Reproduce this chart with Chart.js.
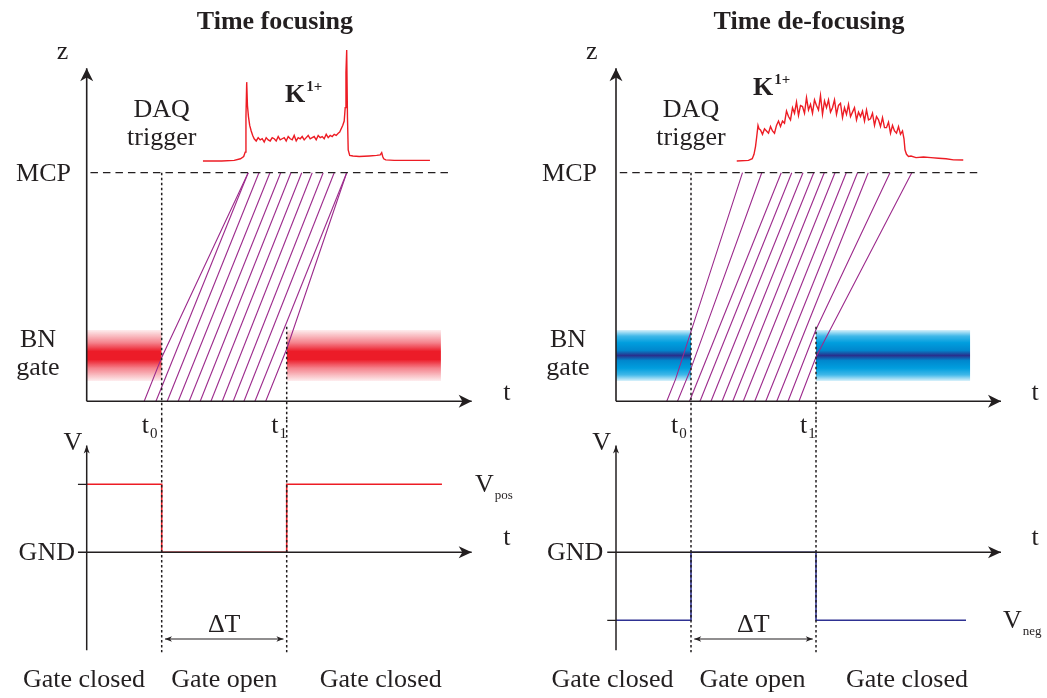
<!DOCTYPE html>
<html lang="en">
<head>
<meta charset="utf-8">
<title>BN gate timing</title>
<script src="https://cdn.jsdelivr.net/npm/chart.js@4.4.0/dist/chart.umd.min.js"></script>
<style>
  body { margin: 0; background: #fff; }
  canvas { display: block; }
</style>
</head>
<body>
<canvas id="gateChart" width="1047" height="698"></canvas>
<script>
// gate opens at t0, closes at t1 (arbitrary time units), MCP sits at z = 10
const t0 = 3;
const t1 = 8;
const mcpZ = 10;
const gateZ = [0.89, 3.12];
const vPos = 1;
const vNeg = -1;

// ion paths: time at z = 0 and arrival time at the MCP
const focusStart  = [2.30, 2.77, 3.22, 3.66, 4.10, 4.54, 4.97, 5.42, 5.86, 6.29, 6.73, 7.16];
const focusArrive = [6.46, 6.46, 6.89, 7.33, 7.76, 8.17, 8.60, 9.02, 9.46, 9.90, 10.40, 10.40];
// ions caught inside the gate when it switches: [path, t, z]
const focusBends = [[0, 3.0, 1.92], [11, 8.0, 2.29]];

const defocusStart  = [2.03, 2.46, 2.94, 3.36, 3.80, 4.24, 4.67, 5.09, 5.55, 5.99, 6.43, 6.88, 7.32];
const defocusArrive = [5.06, 5.83, 6.61, 7.03, 7.48, 7.91, 8.33, 8.76, 9.21, 9.66, 10.09, 10.96, 11.83];
const defocusBends = [[0, 2.38, 0.96], [1, 3.0, 1.44], [11, 8.0, 3.14], [12, 8.0, 1.94]];

// K1+ spectra seen on the MCP (counts, arb.)
const focusSpecT = [4.65, 5.40, 5.90, 6.15, 6.28, 6.34, 6.37, 6.40, 6.43, 6.47, 6.52, 6.58, 6.64,
  6.70, 6.78, 6.86, 6.94, 7.02, 7.10, 7.18, 7.26, 7.34, 7.42, 7.50, 7.58, 7.66, 7.74, 7.82, 7.90,
  7.98, 8.06, 8.14, 8.22, 8.30, 8.38, 8.46, 8.54, 8.62, 8.70, 8.78, 8.86, 8.94, 9.02, 9.10, 9.18,
  9.26, 9.34, 9.42, 9.50, 9.58, 9.66, 9.74, 9.82, 9.90, 9.98, 10.06,
  10.12, 10.18, 10.24, 10.30, 10.34, 10.37, 10.40, 10.43, 10.46, 10.52, 10.65, 10.90, 11.30,
  11.60, 11.74, 11.80, 11.84, 11.88, 11.96, 12.30, 13.00, 13.73];
const focusSpecN = [0, 0, 0.5, 2, 4, 8, 40, 71, 50, 40, 32, 27, 23,
  20, 18, 21, 19, 20, 17, 21, 19, 18, 21, 20, 18, 22, 19, 20, 21,
  18, 22, 20, 19, 23, 18, 21, 20, 22, 19, 21, 23, 20, 21, 22, 19,
  23, 21, 22, 20, 24, 21, 23, 22, 24, 23, 25,
  26, 29, 32, 36, 48, 80, 100, 40, 10, 5, 4.5, 4, 4.5,
  5, 5.5, 7.5, 4, 2, 1, 0.5, 0.5, 0.5];

const defocusSpecT = [4.83, 5.30, 5.45, 5.52, 5.58, 5.63, 5.68, 5.72,
  5.78, 5.86, 5.94, 6.02, 6.10, 6.18, 6.26, 6.34, 6.42, 6.50, 6.58, 6.66, 6.74, 6.82, 6.90, 6.98,
  7.06, 7.14, 7.22, 7.30, 7.38, 7.46, 7.54, 7.62, 7.70, 7.78, 7.86, 7.94, 8.02, 8.10, 8.18, 8.26,
  8.34, 8.42, 8.50, 8.58, 8.66, 8.74, 8.82, 8.90, 8.98, 9.06, 9.14, 9.22, 9.30, 9.38, 9.46, 9.54,
  9.62, 9.70, 9.78, 9.86, 9.94, 10.02, 10.10, 10.18, 10.26, 10.34, 10.42, 10.50, 10.58, 10.66,
  10.74, 10.82, 10.90, 10.98, 11.06, 11.14, 11.22, 11.30, 11.38, 11.46,
  11.52, 11.56, 11.62, 11.70, 11.80, 12.00, 12.30, 12.60, 12.90, 13.20, 13.50, 13.89];
const defocusSpecN = [0, 0.5, 2, 6, 13, 22, 32, 29,
  28, 24, 29, 27, 25, 31, 27, 25, 32, 36, 31, 36, 34, 45, 40, 37,
  48, 43, 53, 41, 50, 49, 43, 57, 46, 51, 43, 55, 50, 46, 59, 42,
  54, 48, 55, 44, 48, 55, 42, 50, 52, 39, 48, 42, 51, 40, 44, 48,
  37, 44, 40, 45, 36, 46, 37, 38, 43, 32, 40, 37, 31, 39,
  30, 30, 35, 25, 32, 27, 25, 31, 24, 27,
  20, 10, 6, 4, 4.5, 3, 3.5, 3, 2.5, 2, 1, 0.8];

// sketch extents
const tEnd = 15.4, zTop = 14.57, vTop = 1.57, vBottom = -1.44, tickFrom = -0.35;
const markBottom = -1.47, t1MarkTop = 3.26, dtLevel = -1.275, bandEnd = 14.17;
const zMin = -0.818, zMax = 17.555, vMin = -2.143, vMax = 1.946;

const INK = '#231f20';
const ION = '#9c2a8c';
const SERIF = '"Liberation Serif", "Times New Roman", serif';

function seg(pts, xa, ya, color, width, extra) {
  return Object.assign({
    data: pts, xAxisID: xa, yAxisID: ya,
    borderColor: color, borderWidth: width,
    pointRadius: 0, fill: false, order: 5
  }, extra || {});
}

function bandFill(stops) {
  return (c) => {
    const chart = c.chart;
    if (!chart.chartArea) return 'rgba(0,0,0,0)';
    const y = chart.scales.yz;
    const g = chart.ctx.createLinearGradient(0, y.getPixelForValue(gateZ[1]), 0, y.getPixelForValue(gateZ[0]));
    stops.forEach(s => g.addColorStop(s[0], s[1]));
    return g;
  };
}

const redBand = [[0, 'rgba(236,28,46,0.08)'], [0.25, 'rgba(236,28,46,0.55)'], [0.42, 'rgb(236,28,40)'],
  [0.58, 'rgb(236,28,40)'], [0.75, 'rgba(236,28,46,0.55)'], [1, 'rgba(236,28,46,0.08)']];
const blueBand = [[0, 'rgba(0,160,225,0.15)'], [0.12, 'rgba(0,160,225,0.75)'], [0.25, 'rgb(0,158,222)'],
  [0.4, 'rgb(0,135,205)'], [0.5, 'rgb(40,48,140)'], [0.6, 'rgb(0,135,205)'], [0.75, 'rgb(0,158,222)'],
  [0.88, 'rgba(0,160,225,0.75)'], [1, 'rgba(0,160,225,0.15)']];

function panel(xa, o) {
  const sets = [];
  // axes
  sets.push(seg([{x: 0, y: 0}, {x: 0, y: zTop}], xa, 'yz', INK, 1.6, {order: 1}));
  sets.push(seg([{x: 0, y: 0}, {x: tEnd, y: 0}], xa, 'yz', INK, 1.6, {order: 1}));
  sets.push(seg([{x: 0, y: vBottom}, {x: 0, y: vTop}], xa, 'yv', INK, 1.5, {order: 1}));
  sets.push(seg([{x: tickFrom, y: 0}, {x: tEnd, y: 0}], xa, 'yv', INK, 1.6, {order: 1}));
  sets.push(seg([{x: tickFrom, y: o.level}, {x: 0, y: o.level}], xa, 'yv', INK, 1.2, {order: 1}));
  // MCP plane
  sets.push(seg([{x: 0.15, y: mcpZ}, {x: 14.6, y: mcpZ}], xa, 'yz', INK, 1.3, {borderDash: [7.5, 5], order: 2}));
  // t0 / t1 markers
  const dots = {borderDash: [2.5, 2.5], order: 3};
  sets.push(seg([{x: t0, y: mcpZ}, {x: t0, y: zMin}], xa, 'yz', INK, 1.5, dots));
  sets.push(seg([{x: t0, y: vMax}, {x: t0, y: markBottom}], xa, 'yv', INK, 1.5, dots));
  sets.push(seg([{x: t1, y: t1MarkTop}, {x: t1, y: zMin}], xa, 'yz', INK, 1.5, dots));
  sets.push(seg([{x: t1, y: vMax}, {x: t1, y: markBottom}], xa, 'yv', INK, 1.5, dots));
  sets.push(seg([{x: t0 + 0.13, y: dtLevel}, {x: t1 - 0.13, y: dtLevel}], xa, 'yv', INK, 1.2, {order: 3}));
  // gate voltage
  sets.push(seg([{x: 0, y: o.level}, {x: t0, y: o.level}, {x: t0, y: 0}, {x: t1, y: 0},
    {x: t1, y: o.level}, {x: o.sigEnd, y: o.level}], xa, 'yv', o.sigColor, 1.6, {order: 4}));
  // ion trajectories
  o.start.forEach((ts, i) => {
    const pts = [{x: ts, y: 0}];
    o.bends.filter(b => b[0] === i).forEach(b => pts.push({x: b[1], y: b[2]}));
    pts.push({x: o.arrive[i], y: mcpZ});
    sets.push(seg(pts, xa, 'yz', ION, 1.1, {order: 6}));
  });
  // spectrum
  sets.push(seg(o.specT.map((t, i) => ({x: t, y: o.specN[i]})), xa, 'ySpec', '#ed1c24', 1.4, {order: 7}));
  // BN gate bands
  [[0, t0], [t1, bandEnd]].forEach(r => {
    sets.push(seg([{x: r[0], y: gateZ[1]}, {x: r[1], y: gateZ[1]}], xa, 'yz', 'rgba(0,0,0,0)', 0,
      {fill: {value: gateZ[0]}, backgroundColor: bandFill(o.band), order: 9}));
  });
  return sets;
}

const datasets = [
  ...panel('xL', {level: vPos, sigEnd: 14.21, sigColor: '#ed1c24', band: redBand,
    start: focusStart, arrive: focusArrive, bends: focusBends, specT: focusSpecT, specN: focusSpecN}),
  ...panel('xR', {level: vNeg, sigEnd: 14.0, sigColor: '#2e3192', band: blueBand,
    start: defocusStart, arrive: defocusArrive, bends: defocusBends, specT: defocusSpecT, specN: defocusSpecN})
];

const labels = [
  {text: 'Time focusing', x: 7.53, y: 16.29, xa: 'xL', ya: 'yz', bold: true},
  {text: 'z', x: -0.97, y: 14.96, xa: 'xL', ya: 'yz'},
  {text: 'DAQ', x: 3, y: 12.44, xa: 'xL', ya: 'yz'},
  {text: 'trigger', x: 3, y: 11.21, xa: 'xL', ya: 'yz'},
  {text: 'K', sup: '1+', x: 7.93, y: 13.11, xa: 'xL', ya: 'yz', bold: true, align: 'left'},
  {text: 'MCP', x: -0.63, y: 9.63, xa: 'xL', ya: 'yz', align: 'right'},
  {text: 'BN', x: -1.95, y: 2.39, xa: 'xL', ya: 'yz'},
  {text: 'gate', x: -1.95, y: 1.15, xa: 'xL', ya: 'yz'},
  {text: 't', x: 16.81, y: 0.06, xa: 'xL', ya: 'yz'},
  {text: 't', sub: '0', x: 2.2, y: 1.754, xa: 'xL', ya: 'yv', align: 'left'},
  {text: 't', sub: '1', x: 7.38, y: 1.754, xa: 'xL', ya: 'yv', align: 'left'},
  {text: 'V', x: -0.55, y: 1.5, xa: 'xL', ya: 'yv'},
  {text: 'GND', x: -0.47, y: -0.11, xa: 'xL', ya: 'yv', align: 'right'},
  {text: 't', x: 16.81, y: 0.11, xa: 'xL', ya: 'yv'},
  {text: 'V', sub: 'pos', x: 15.53, y: 0.89, xa: 'xL', ya: 'yv', align: 'left'},
  {text: '\u0394T', x: 5.5, y: -1.17, xa: 'xL', ya: 'yv'},
  {text: 'Gate closed', x: -0.11, y: -1.98, xa: 'xL', ya: 'yv'},
  {text: 'Gate open', x: 5.5, y: -1.98, xa: 'xL', ya: 'yv'},
  {text: 'Gate closed', x: 11.76, y: -1.98, xa: 'xL', ya: 'yv'},

  {text: 'Time de-focusing', x: 7.72, y: 16.29, xa: 'xR', ya: 'yz', bold: true},
  {text: 'z', x: -0.97, y: 14.96, xa: 'xR', ya: 'yz'},
  {text: 'DAQ', x: 3, y: 12.44, xa: 'xR', ya: 'yz'},
  {text: 'trigger', x: 3, y: 11.21, xa: 'xR', ya: 'yz'},
  {text: 'K', sup: '1+', x: 5.48, y: 13.4, xa: 'xR', ya: 'yz', bold: true, align: 'left'},
  {text: 'MCP', x: -0.76, y: 9.63, xa: 'xR', ya: 'yz', align: 'right'},
  {text: 'BN', x: -1.92, y: 2.39, xa: 'xR', ya: 'yz'},
  {text: 'gate', x: -1.92, y: 1.15, xa: 'xR', ya: 'yz'},
  {text: 't', x: 16.76, y: 0.06, xa: 'xR', ya: 'yz'},
  {text: 't', sub: '0', x: 2.2, y: 1.754, xa: 'xR', ya: 'yv', align: 'left'},
  {text: 't', sub: '1', x: 7.36, y: 1.754, xa: 'xR', ya: 'yv', align: 'left'},
  {text: 'V', x: -0.57, y: 1.5, xa: 'xR', ya: 'yv'},
  {text: 'GND', x: -0.51, y: -0.11, xa: 'xR', ya: 'yv', align: 'right'},
  {text: 't', x: 16.76, y: 0.11, xa: 'xR', ya: 'yv'},
  {text: 'V', sub: 'neg', x: 15.48, y: -1.11, xa: 'xR', ya: 'yv', align: 'left'},
  {text: '\u0394T', x: 5.49, y: -1.17, xa: 'xR', ya: 'yv'},
  {text: 'Gate closed', x: -0.14, y: -1.98, xa: 'xR', ya: 'yv'},
  {text: 'Gate open', x: 5.46, y: -1.98, xa: 'xR', ya: 'yv'},
  {text: 'Gate closed', x: 11.64, y: -1.98, xa: 'xR', ya: 'yv'}
];

function arrowHead(ctx, x, y, dx, dy, len, half) {
  const nx = -dy, ny = dx;
  ctx.beginPath();
  ctx.moveTo(x, y);
  ctx.lineTo(x - dx * len + nx * half, y - dy * len + ny * half);
  ctx.lineTo(x - dx * len * 0.72, y - dy * len * 0.72);
  ctx.lineTo(x - dx * len - nx * half, y - dy * len - ny * half);
  ctx.closePath();
  ctx.fill();
}

function drawLabel(ctx, chart, l) {
  const x = chart.scales[l.xa].getPixelForValue(l.x);
  const y = chart.scales[l.ya].getPixelForValue(l.y);
  const main = (l.bold ? 'bold ' : '') + '26px ' + SERIF;
  const small = (l.bold ? 'bold ' : '') + (l.sub === 'pos' || l.sub === 'neg' ? 13 : 15) + 'px ' + SERIF;
  ctx.font = main;
  const w = ctx.measureText(l.text).width;
  let extra = 0;
  if (l.sub || l.sup) {
    ctx.font = small;
    extra = ctx.measureText(l.sub || l.sup).width + 1;
  }
  const total = w + extra;
  const align = l.align || 'center';
  const left = align === 'center' ? x - total / 2 : align === 'right' ? x - total : x;
  ctx.font = main;
  ctx.fillText(l.text, left, y);
  if (l.sub) {
    ctx.font = small;
    ctx.fillText(l.sub, left + w + 1, y + (l.sub.length > 1 ? 7 : 5));
  }
  if (l.sup) {
    ctx.font = small;
    ctx.fillText(l.sup, left + w + 1, y - 11);
  }
}

const sketchOverlay = {
  id: 'sketchOverlay',
  afterDatasetsDraw(chart) {
    const ctx = chart.ctx;
    const sc = chart.scales;
    ctx.save();
    ctx.fillStyle = INK;
    ['xL', 'xR'].forEach(xa => {
      const X = v => sc[xa].getPixelForValue(v);
      arrowHead(ctx, X(0), sc.yz.getPixelForValue(zTop), 0, -1, 13, 6.5);
      arrowHead(ctx, X(tEnd), sc.yz.getPixelForValue(0), 1, 0, 13, 6.5);
      arrowHead(ctx, X(0), sc.yv.getPixelForValue(vTop), 0, -1, 8, 3);
      arrowHead(ctx, X(tEnd), sc.yv.getPixelForValue(0), 1, 0, 13, 6);
      const yd = sc.yv.getPixelForValue(dtLevel);
      arrowHead(ctx, X(t0 + 0.13), yd, -1, 0, 7, 2.8);
      arrowHead(ctx, X(t1 - 0.13), yd, 1, 0, 7, 2.8);
    });
    ctx.textBaseline = 'alphabetic';
    ctx.textAlign = 'left';
    labels.forEach(l => drawLabel(ctx, chart, l));
    ctx.restore();
  }
};

const hidden = {display: false};
new Chart(document.getElementById('gateChart'), {
  type: 'line',
  data: {datasets: datasets},
  options: {
    responsive: false,
    animation: false,
    events: [],
    devicePixelRatio: 1,
    layout: {padding: 0, autoPadding: false},
    elements: {line: {tension: 0, borderCapStyle: 'butt'}, point: {radius: 0}},
    plugins: {legend: hidden, tooltip: {enabled: false}, title: hidden},
    scales: {
      xL: {type: 'linear', position: 'bottom', stack: 'panels', stackWeight: 1, min: -3.468, max: 17.472, display: false},
      xR: {type: 'linear', position: 'bottom', stack: 'panels', stackWeight: 1, min: -3.70, max: 17.24, display: false},
      // left boxes are laid out in reverse order, so the V row is listed first to end up below
      yv: {type: 'linear', position: 'left', stack: 'rows', stackWeight: 278, min: vMin, max: vMax, display: false},
      yz: {type: 'linear', position: 'left', stack: 'rows', stackWeight: 420, min: zMin, max: zMax, display: false},
      ySpec: {type: 'linear', position: 'left', min: -483.8, max: 145.0, display: false}
    }
  },
  plugins: [sketchOverlay]
});
</script>
</body>
</html>
